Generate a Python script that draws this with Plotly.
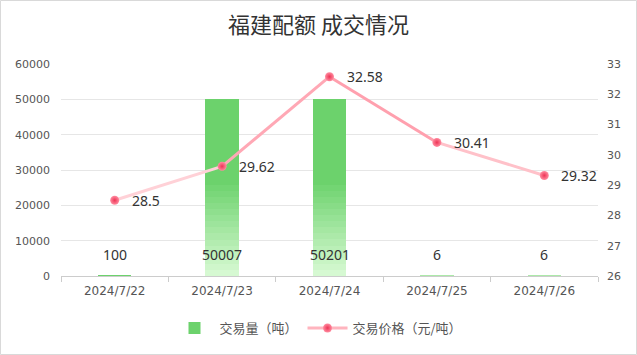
import plotly.graph_objects as go
from plotly.colors import sample_colorscale

# ---- data ----
dates = ["2024/7/22", "2024/7/23", "2024/7/24", "2024/7/25", "2024/7/26"]
volumes = [100, 50007, 50201, 6, 6]
prices = [28.5, 29.62, 32.58, 30.41, 29.32]
left_ticks = [0, 10000, 20000, 30000, 40000, 50000, 60000]
right_ticks = [26, 27, 28, 29, 30, 31, 32, 33]
title_text = "福建配额 成交情况"
bar_name = "交易量（吨）"
line_name = "交易价格（元/吨）"

# ---- styles ----
W, H = 637, 355
ML, MR, MT, MB = 61, 39, 64, 79
BAR_TOP = "rgb(108,210,108)"
BAR_BOTTOM = "rgb(214,249,210)"
FADE = 0.55
STEPS = 16
LINE_LOW = "rgb(255,220,224)"
LINE_HIGH = "rgb(255,138,156)"
DOT_EDGE = "rgb(255,140,160)"
DOT_CENTER = "rgb(238,52,86)"
NUM_FONT = "Noto Sans"
AX_FONT = "DejaVu Sans"
CJK = "Noto Sans CJK SC"

fig = go.Figure()

# base bar (solid top colour) - carries the legend entry
fig.add_trace(go.Bar(
    x=dates, y=volumes, width=0.31, name=bar_name,
    marker=dict(color=BAR_TOP, line=dict(width=0)),
    hoverinfo="skip", yaxis="y",
))
# gradient fade toward the bottom of each bar
for k in range(STEPS):
    t = k / (STEPS - 1)
    col = sample_colorscale([[0, BAR_BOTTOM], [1, BAR_TOP]], [t])[0]
    fig.add_trace(go.Bar(
        x=dates,
        base=[v * FADE * k / STEPS for v in volumes],
        y=[v * FADE / STEPS for v in volumes],
        width=0.31, showlegend=False,
        marker=dict(color=col, line=dict(width=0)),
        hoverinfo="skip", yaxis="y",
    ))

# price line segments with a vertical colour gradient
pmin, pmax = min(prices), max(prices)
for i in range(len(prices) - 1):
    mean = (prices[i] + prices[i + 1]) / 2
    t = (mean - pmin) / (pmax - pmin)
    col = sample_colorscale([[0, LINE_LOW], [1, LINE_HIGH]], [t])[0]
    fig.add_trace(go.Scatter(
        x=dates[i:i + 2], y=prices[i:i + 2], mode="lines",
        line=dict(color=col, width=3), showlegend=False,
        hoverinfo="skip", yaxis="y2",
    ))

# markers
fig.add_trace(go.Scatter(
    x=dates, y=prices, mode="markers",
    marker=dict(size=9, color=DOT_EDGE, line=dict(width=0),
                gradient=dict(type="radial", color=DOT_CENTER)),
    showlegend=False, yaxis="y2", hoverinfo="skip",
))

# price labels
for d, p in zip(dates, prices):
    fig.add_annotation(
        x=d, y=p, xref="x", yref="y2", text=str(p), showarrow=False,
        xanchor="left", yanchor="middle", xshift=15,
        font=dict(family=NUM_FONT, size=14, color="#333333"),
    )

# legend-only entry for the line
fig.add_trace(go.Scatter(
    x=[None], y=[None], mode="lines+markers", name=line_name,
    line=dict(color="rgb(255,180,190)", width=3),
    marker=dict(size=9, color=DOT_EDGE, gradient=dict(type="radial", color=DOT_CENTER)),
    yaxis="y2",
))

# bar value labels near the base
for d, v in zip(dates, volumes):
    fig.add_annotation(
        x=d, y=0, xref="x", yref="y", text=str(v), showarrow=False,
        yanchor="bottom", yshift=10,
        font=dict(family=NUM_FONT, size=14, color="#333333"),
    )

pw = W - ML - MR
ph = H - MT - MB
fig.add_shape(
    type="rect", xref="paper", yref="paper",
    x0=-(ML - 0.5) / pw, x1=1 + (MR - 0.5) / pw,
    y0=-(MB - 0.5) / ph, y1=1 + (MT - 0.5) / ph,
    line=dict(color="#d9d9d9", width=1), fillcolor="rgba(0,0,0,0)",
    layer="below",
)

fig.update_layout(
    width=W, height=H,
    margin=dict(l=ML, r=MR, t=MT, b=MB, pad=0),
    paper_bgcolor="white", plot_bgcolor="white",
    barmode="overlay", bargap=0,
    title=dict(text=title_text, x=0.5, xref="container", xanchor="center",
               y=1 - 25 / H, yref="container", yanchor="middle",
               font=dict(family=CJK, size=22, color="#333333")),
    xaxis=dict(type="category", range=[-0.5, 4.5], showgrid=False,
               showline=True, linecolor="#cccccc", linewidth=1,
               ticks="outside", tickson="boundaries", ticklen=5,
               tickcolor="#cccccc", ticklabelstandoff=4,
               tickfont=dict(family=AX_FONT, size=12, color="#555555")),
    yaxis=dict(range=[0, 60000], tickvals=left_ticks, tickformat="d",
               gridcolor="#e6e6e6", gridwidth=1, zeroline=False,
               showline=False, ticks="", ticklabelstandoff=10,
               tickfont=dict(family=AX_FONT, size=11, color="#555555")),
    yaxis2=dict(range=[26, 33], tickvals=right_ticks, overlaying="y",
                side="right", showgrid=False, zeroline=False, showline=False,
                ticks="", ticklabelstandoff=8,
                tickfont=dict(family=AX_FONT, size=11, color="#555555")),
    legend=dict(orientation="h", x=0.5 - 11 / pw, xanchor="center",
                y=-(328 - (H - MB)) / ph, yanchor="middle",
                font=dict(family=CJK, size=13, color="#555555"),
                itemwidth=40, traceorder="normal"),
    showlegend=True,
    hovermode=False,
)

fig.write_html("out.html")
